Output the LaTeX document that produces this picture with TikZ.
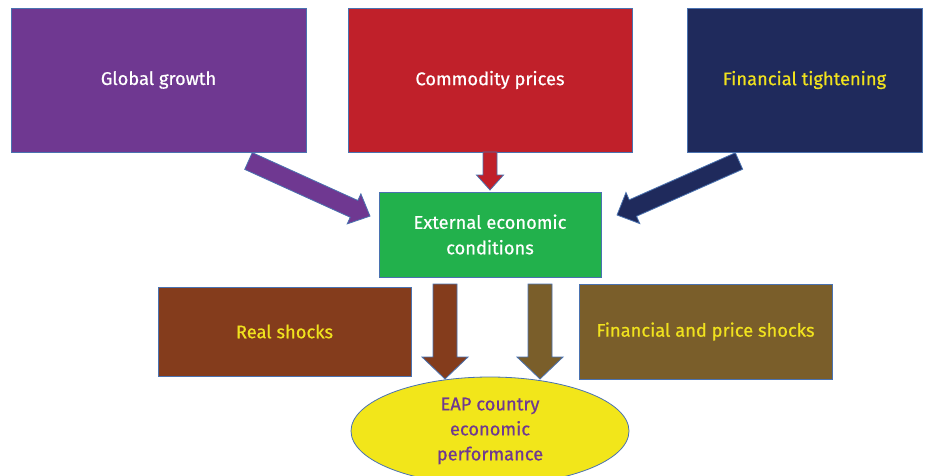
\documentclass[tikz,border=0pt]{standalone}
\usepackage{fontspec}
\setmainfont{Fira Sans}[FakeBold=0.6]
\usetikzlibrary{shapes.geometric}
\definecolor{cpurple}{HTML}{6F3891}
\definecolor{cred}{HTML}{C0202A}
\definecolor{cnavy}{HTML}{1F2A5C}
\definecolor{cgreen}{HTML}{22B14C}
\definecolor{cbrown}{HTML}{843C1C}
\definecolor{colive}{HTML}{7A5E2A}
\definecolor{cyellow}{HTML}{F2E61A}
\definecolor{ctxtyellow}{HTML}{F0E21E}
\definecolor{cedge}{HTML}{4A72B0}
\definecolor{ctxtpurple}{HTML}{6F3891}
% \fatarrow{fill}{tail x}{tail y}{angle}{length}{shaft half}{head half}{head length}
\newcommand{\fatarrow}[8]{%
  \begin{scope}[shift={(#2,#3)},rotate=#4]
    \draw[arrowbox,fill=#1] (0,#6) -- (#5-#8,#6) -- (#5-#8,#7) -- (#5,0)
      -- (#5-#8,-#7) -- (#5-#8,-#6) -- (0,-#6) -- cycle;
  \end{scope}}
\begin{document}
\begin{tikzpicture}[x=1pt,y=-1pt,
  box/.style={draw=cedge,line width=0.8pt,minimum width=#1,inner sep=0pt,
    font=\fontsize{18.3}{25.5}\selectfont,align=center},
  arrowbox/.style={draw=cedge,line width=0.8pt,line join=miter}]
\useasboundingbox (0,0) rectangle (928,476);
\fill[white] (0,0) rectangle (928,476);
\node[box=295pt,minimum height=144pt,fill=cpurple,text=white] (gg) at (158.5,80) {Global growth};
\node[box=284pt,minimum height=144pt,fill=cred,text=white] (cp) at (490,80) {Commodity prices};
\node[box=235pt,minimum height=144pt,fill=cnavy,text=ctxtyellow] (ft) at (804.5,80) {Financial tightening};
\node[box=222pt,minimum height=85pt,fill=cgreen,text=white] (ec) at (490,234.5) {External economic\\conditions};
\node[box=253pt,minimum height=89pt,fill=cbrown,text=ctxtyellow] (rs) at (284.5,331.5) {Real shocks};
\node[box=253pt,minimum height=95pt,fill=colive,text=ctxtyellow] (fp) at (705.5,331.5) {Financial and price shocks};
\node[ellipse,draw=cedge,line width=0.8pt,fill=cyellow,text=ctxtpurple,
  minimum width=278pt,minimum height=108pt,inner sep=0pt,
  font=\fontsize{18.3}{25}\selectfont,align=center] (eap) at (490,431) {EAP country\\economic\\performance};
\fatarrow{cpurple}{248.5}{161}{-24.4}{133.4}{9.2}{16.5}{17.5}
\fatarrow{cnavy}{739}{161}{-156.1}{133.4}{9}{17}{17.3}
\fatarrow{cred}{490}{152}{-90}{38}{7}{13.5}{15}
\fatarrow{cbrown}{445}{284}{-90}{95}{12}{23}{22}
\fatarrow{colive}{540}{284}{-90}{95}{12}{23}{22}
\end{tikzpicture}
\end{document}
